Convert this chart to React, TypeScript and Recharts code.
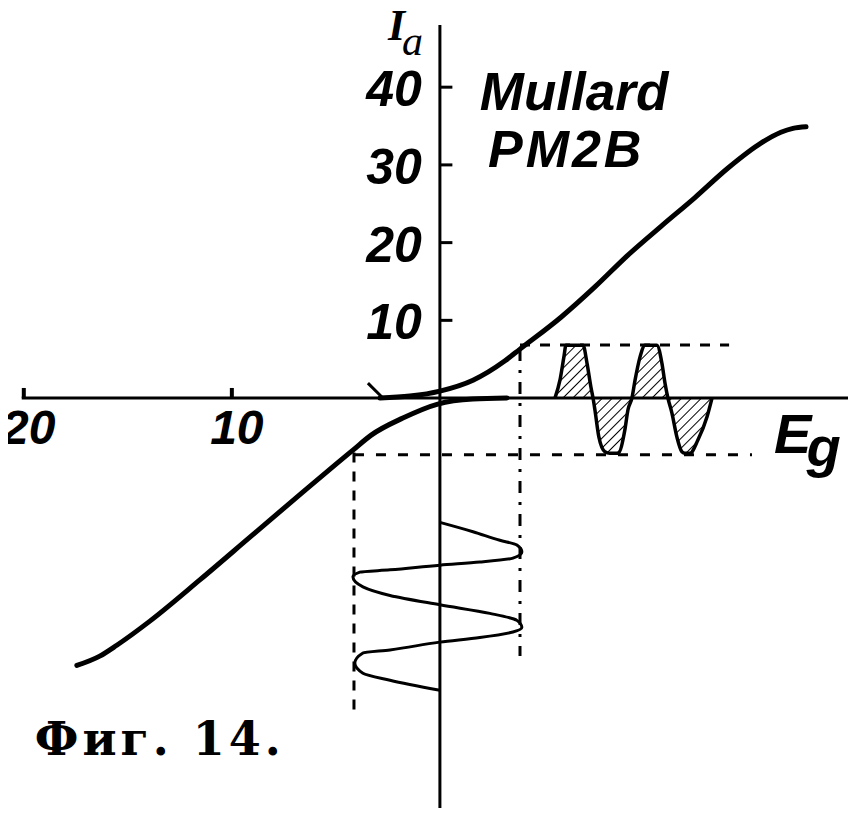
import React from 'react';
import { ComposedChart, XAxis, YAxis, Line, Area, ReferenceLine, ReferenceDot } from 'recharts';

const W = 856;
const H = 816;

// characteristic Ia(Eg) of the PM2B, upper branch and the inverted lower branch
const upperEg = [-2.88, -1.44, 0, 1.59, 3.13, 3.85, 5.82, 7.45, 9.04, 10.63, 12.26, 13.85, 15.43, 16.39, 16.97, 17.6];
const upperIa = [0, 0.26, 0.9, 2.3, 4.8, 6.3, 10.4, 14.3, 18.4, 22.1, 25.8, 29.6, 32.8, 34.2, 34.7, 34.9];
const lowerEg = [-17.45, -16.35, -15.53, -13.94, -11.54, -9.13, -6.59, -4.95, -4.18, -3.32, -1.78, -0.1, 1.59, 3.22];
const lowerIa = [-34.4, -33.2, -31.8, -28.7, -23.4, -17.9, -12.1, -8.4, -6.7, -4.8, -2.57, -0.77, -0.13, 0];

// grid voltage swing, time running down the Ia axis
const inEg = [0, 1.59, 2.88, 3.7, 3.94, 3.51, 1.92, 0, -2.4, -3.85, -4.18, -3.7, -2.4, 0, 2.4, 3.7, 3.94, 3.51, 1.92, 0, -2.4, -3.7, -4.09, -3.7, -2.4, 0];
const inT = [-16.0, -17.2, -18.3, -18.9, -19.8, -20.6, -21.1, -21.5, -22.1, -22.4, -23.0, -24.3, -25.4, -26.6, -27.7, -28.6, -29.5, -30.1, -30.8, -31.4, -32.4, -32.8, -34.1, -35.4, -36.3, -37.6];

// anode current swing, time running along the Eg axis
const outEg = [5.53, 5.77, 5.96, 6.06, 6.88, 7.07, 7.26, 7.36, 7.45, 7.64, 7.93, 8.17, 8.56, 8.89, 9.04, 9.23, 9.38, 9.62, 9.86, 10.43, 10.67, 10.82, 10.96, 11.15, 11.39, 11.63, 11.78, 12.02, 12.4, 12.84, 13.08];
const outIa = [0, 2.3, 5.3, 6.8, 6.8, 4.5, 1.4, 0, -1.5, -5.0, -6.9, -7.1, -7.1, -4.1, -1.5, 0, 2.3, 5.3, 6.8, 6.8, 4.5, 1.9, 0, -1.9, -5.0, -6.9, -7.1, -7.1, -5.4, -2.4, 0];

// axis ticks
const iaTicks = [10, 20, 30, 40];
const egTicks = [-20, -10];
const egTickLabels = ['20', '10'];

// projection lines: grid extremes and anode current extremes
const gridSwing = [-4.13, 3.85];
const gridFrom = [-7.0, 6.3];
const gridTo = [-40.8, -33.2];
const currentSwing = [-7.3, 6.82];
const currentFrom = [-4.13, 3.85];
const currentTo = [15.0, 13.9];

// cut-off mark
const cutoffEg = [-3.46, -2.79];
const cutoffIa = [1.93, 0.13];

const rows = (xs: number[], ys: number[]) => xs.map((eg, i) => ({ eg, v: ys[i] }));

const SANS = "'Liberation Sans', Arial, sans-serif";
const SERIF = "'Liberation Serif', 'Times New Roman', serif";

const txt = (content: React.ReactNode, o: any = {}) => (p: any) => (
  <text
    x={p.cx + (o.dx || 0)}
    y={p.cy + (o.dy || 0)}
    textAnchor={o.anchor || 'start'}
    fontFamily={o.family || SANS}
    fontSize={o.size || 50}
    fontStyle={o.italic === false ? 'normal' : 'italic'}
    fontWeight={o.bold === false ? 'normal' : 'bold'}
    letterSpacing={o.spacing || 0}
    fill="#000"
  >
    {content}
  </text>
);

const dashed = (dash: string) => ({
  stroke: '#000',
  strokeWidth: 3,
  strokeDasharray: dash,
  dot: false,
  activeDot: false,
  isAnimationActive: false,
  type: 'linear' as const,
});

export default function App() {
  return (
    <div style={{ margin: -8, width: W, height: H, background: '#fff' }}>
      <ComposedChart width={W} height={H} margin={{ top: 25, right: 0, bottom: 6, left: 3 }}>
        <defs>
          <pattern id="hatch" patternUnits="userSpaceOnUse" width="7" height="7" patternTransform="rotate(45)">
            <line x1="0" y1="0" x2="0" y2="7" stroke="#000" strokeWidth="2" />
          </pattern>
        </defs>
        <XAxis type="number" dataKey="eg" domain={[-21, 20]} allowDataOverflow hide />
        <YAxis type="number" domain={[-53, 48]} allowDataOverflow hide />

        {/* axes crossing at the origin */}
        <ReferenceLine segment={[{ x: -20.1, y: 0 }, { x: 20, y: 0 }]} stroke="#000" strokeWidth={3} ifOverflow="visible" />
        <ReferenceLine segment={[{ x: 0, y: 48 }, { x: 0, y: -53 }]} stroke="#000" strokeWidth={3} ifOverflow="visible" />
        {iaTicks.map((t) => (
          <ReferenceLine key={'yt' + t} segment={[{ x: 0, y: t }, { x: 0.6, y: t }]} stroke="#000" strokeWidth={3} ifOverflow="visible" />
        ))}
        {egTicks.map((t) => (
          <ReferenceLine key={'xt' + t} segment={[{ x: t, y: 0 }, { x: t, y: 1.3 }]} stroke="#000" strokeWidth={4} ifOverflow="visible" />
        ))}
        <Line data={rows(cutoffEg, cutoffIa)} dataKey="v" type="linear" stroke="#000" strokeWidth={3} dot={false} activeDot={false} isAnimationActive={false} />

        {/* projection lines */}
        <Line data={rows([gridSwing[1], gridSwing[1]], [gridFrom[1], gridTo[1]])} dataKey="v" {...dashed('12 9 3 9')} />
        <Line data={rows([gridSwing[0], gridSwing[0]], [gridFrom[0], gridTo[0]])} dataKey="v" {...dashed('10 9')} />
        <Line data={rows([currentFrom[1], currentTo[1]], [currentSwing[1], currentSwing[1]])} dataKey="v" {...dashed('10 10')} />
        <Line data={rows([currentFrom[0], currentTo[0]], [currentSwing[0], currentSwing[0]])} dataKey="v" {...dashed('10 12')} />

        {/* output current, hatched */}
        <Area data={rows(outEg, outIa)} dataKey="v" type="monotone" baseValue={0} stroke="#000" strokeWidth={3.5} fill="url(#hatch)" fillOpacity={1} dot={false} activeDot={false} isAnimationActive={false} />

        {/* grid input */}
        <Line data={rows(inEg, inT)} dataKey="v" type="monotoneY" stroke="#000" strokeWidth={3} dot={false} activeDot={false} isAnimationActive={false} />

        {/* characteristic */}
        <Line data={rows(upperEg, upperIa)} dataKey="v" type="monotone" stroke="#000" strokeWidth={5} strokeLinecap="round" dot={false} activeDot={false} isAnimationActive={false} />
        <Line data={rows(lowerEg, lowerIa)} dataKey="v" type="monotone" stroke="#000" strokeWidth={5} strokeLinecap="round" dot={false} activeDot={false} isAnimationActive={false} />

        {/* tick labels */}
        {iaTicks.map((t) => (
          <ReferenceDot key={'yl' + t} x={0} y={t} r={0} ifOverflow="visible" shape={txt(String(t), { dx: -18, dy: 19, anchor: 'end' })} />
        ))}
        {egTicks.map((t, i) => (
          <ReferenceDot key={'xl' + t} x={t} y={0} r={0} ifOverflow="visible" shape={txt(egTickLabels[i], { dx: 5, dy: 46, anchor: 'middle', size: 48 })} />
        ))}

        {/* axis names and titles */}
        <ReferenceDot x={0} y={48} r={0} ifOverflow="visible"
          shape={txt('I', { dx: -52, dy: 15, size: 44, family: SERIF })} />
        <ReferenceDot x={0} y={48} r={0} ifOverflow="visible"
          shape={txt('a', { dx: -38, dy: 30, size: 42, family: SERIF, bold: false })} />
        <ReferenceDot x={16.06} y={-7.08} r={0} ifOverflow="visible"
          shape={txt(<>E<tspan dx={-5} dy={13}>g</tspan></>, { size: 56 })} />
        <ReferenceDot x={1.92} y={37.06} r={0} ifOverflow="visible" shape={txt('Mullard', { size: 53 })} />
        <ReferenceDot x={2.31} y={29.72} r={0} ifOverflow="visible" shape={txt('PM2B', { size: 52, spacing: 3 })} />
        <ReferenceDot x={-19.47} y={-45.93} r={0} ifOverflow="visible"
          shape={txt('Фиг. 14.', { family: "'DejaVu Serif', serif", size: 46, italic: false, bold: true, spacing: 4 })} />
      </ComposedChart>
    </div>
  );
}
